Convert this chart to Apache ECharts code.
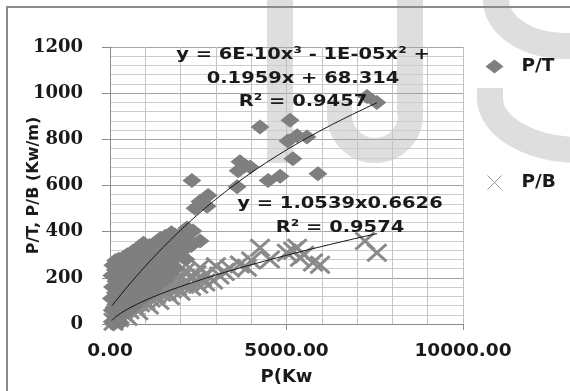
<!DOCTYPE html>
<html>
<head>
<meta charset="utf-8">
<script src="https://cdn.jsdelivr.net/npm/echarts@6/dist/echarts.min.js"></script>
<style>
  html, body { margin: 0; padding: 0; background: #fff; }
  #chart { width: 570px; height: 391px; }
</style>
</head>
<body>
<div id="chart"></div>
<script>
// P/T readings: [P (Kw), P/T (Kw/m)]
const ptPoints = [
  [100, 0], [300, 5], [60, 10], [60, 60], [40, 110], [70, 160], [50, 210], [80, 255],
  [150, 35], [160, 85], [150, 135], [170, 185], [150, 235], [160, 275],
  [250, 30], [270, 80], [240, 130], [260, 180], [280, 230], [250, 280],
  [400, 45], [390, 95], [410, 145], [400, 195], [380, 245], [400, 290],
  [500, 60], [520, 110], [480, 160], [510, 210], [530, 260], [490, 300],
  [650, 75], [660, 125], [640, 175], [650, 225], [670, 275], [650, 315],
  [800, 100], [780, 150], [820, 200], [790, 250], [810, 300], [830, 335],
  [950, 115], [960, 165], [940, 215], [950, 265], [970, 315], [950, 350],
  [1100, 140], [1120, 190], [1080, 240], [1110, 290], [1130, 340],
  [1250, 150], [1260, 200], [1240, 250], [1250, 300], [1270, 350],
  [1400, 180], [1380, 230], [1420, 280], [1390, 330], [1430, 370],
  [1550, 190], [1560, 240], [1540, 290], [1550, 340], [1570, 380],
  [1700, 220], [1720, 270], [1680, 320], [1710, 370], [1740, 395],
  [1850, 240], [1860, 290], [1840, 340], [1850, 385],
  [2000, 300], [2030, 345], [1980, 385], [2180, 416],
  [2150, 280], [2160, 330], [2140, 375],
  [2300, 340], [2550, 360], [2350, 403],
  [2320, 622], [2410, 501], [2550, 531], [2750, 510], [2780, 557],
  [3600, 595], [3630, 664], [3680, 703], [3820, 686], [3970, 680],
  [4250, 853], [4480, 622], [4820, 640], [5040, 793], [5100, 883],
  [5180, 716], [5300, 815], [5580, 810], [5890, 651],
  [7280, 986], [7560, 960]
];

// P/B readings: [P (Kw), P/B (Kw/m)]
const pbPoints = [
  [100, 10], [150, 40], [250, 25], [300, 60], [400, 45], [450, 80],
  [500, 30], [550, 60], [600, 95], [700, 75], [750, 110], [800, 55],
  [850, 90], [900, 125], [1000, 100], [1050, 135], [1100, 80],
  [1150, 110], [1200, 150], [1250, 180], [1300, 125], [1350, 160],
  [1400, 100], [1450, 135], [1500, 170], [1550, 200], [1600, 140],
  [1650, 175], [1700, 120], [1750, 150], [1800, 185], [1850, 215],
  [1900, 160], [2000, 195], [2000, 140], [2100, 170], [2150, 230],
  [2200, 180], [2270, 201], [2300, 160], [2400, 185], [2450, 215],
  [2500, 170], [2550, 244], [2600, 200], [2700, 180], [2750, 215],
  [2920, 188], [3000, 250], [3100, 210], [3250, 225], [3400, 240],
  [3680, 258], [3880, 244], [4000, 275], [4250, 330], [4530, 279],
  [5010, 309], [5190, 317], [5300, 330], [5380, 287], [5500, 300],
  [5750, 266], [5950, 257], [7224, 360], [7560, 309]
];

// Trendline coefficients (polynomial for P/T, power law for P/B)
const ptPoly = [68.314, 0.1959, -1.45e-5, 5.5e-10];
const pbPower = { k: 1.0539, p: 0.6626 };
const trendRange = [55, 7560];

// Equation labels
const ptEquation = ['y = 6E-10x³ - 1E-05x² +', '0.1959x + 68.314', 'R² = 0.9457'];
const pbEquation = ['y = 1.0539x0.6626', 'R² = 0.9574'];

// Axis settings
const xTicks = [0, 5000, 10000];
const yTicks = [0, 200, 400, 600, 800, 1000, 1200];

function sampleTrend(fn) {
  const out = [];
  const steps = 120;
  for (let i = 0; i <= steps; i++) {
    const x = trendRange[0] + (trendRange[1] - trendRange[0]) * i / steps;
    out.push([x, fn(x)]);
  }
  return out;
}
const ptTrend = sampleTrend(x => ptPoly[0] + ptPoly[1] * x + ptPoly[2] * x * x + ptPoly[3] * x * x * x);
const pbTrend = sampleTrend(x => pbPower.k * Math.pow(x, pbPower.p));

const crossPath = 'path://M0,0L10,10M0,10L10,0';
const sans = 'DejaVu Sans';
const gray = '#7f7f7f';
const ink = '#1a1a1a';
const watermark = '#dedede';

const chart = echarts.init(document.getElementById('chart'), null, { renderer: 'canvas' });

function eqText(lines, cx, y0, lh) {
  return lines.map((t, i) => ({
    type: 'text', x: cx, y: y0 + i * lh, z: 50, scaleX: 1.18,
    style: { text: t, fill: ink, font: 'bold 16.5px "' + sans + '"',
             align: 'center', verticalAlign: 'middle' }
  }));
}

// stroke pieces of the large background lettering
function wmCurve(p) {
  return { type: 'bezierCurve', z: -10,
    shape: { x1: p[0], y1: p[1], cpx1: p[2], cpy1: p[3], cpx2: p[4], cpy2: p[5], x2: p[6], y2: p[7] },
    style: { stroke: watermark, lineWidth: 26, fill: null } };
}
function wmLine(x1, y1, x2, y2) {
  return { type: 'line', z: -10, shape: { x1, y1, x2, y2 }, style: { stroke: watermark, lineWidth: 26 } };
}

chart.setOption({
  animation: false,
  backgroundColor: '#fff',
  grid: { left: 110, right: 107, top: 47, bottom: 64, containLabel: false },
  xAxis: {
    type: 'value', min: xTicks[0], max: xTicks[xTicks.length - 1], interval: 5000,
    name: 'P(Kw', nameLocation: 'middle', nameGap: 44, nameMoveOverlap: false,
    nameTextStyle: { fontFamily: sans, fontWeight: 'bold', fontSize: 18, color: ink },
    axisLine: { show: true, onZero: false, lineStyle: { color: '#8c8c8c', width: 1 } },
    axisTick: { show: true, inside: false, length: 6, lineStyle: { color: '#8c8c8c' } },
    axisLabel: { margin: 18, fontFamily: sans, fontWeight: 'bold', fontSize: 18.5, color: ink,
                 formatter: v => v.toFixed(2) },
    splitLine: { show: true, lineStyle: { color: '#c0c0c0', width: 1 } },
    minorTick: { show: false, splitNumber: 5 },
    minorSplitLine: { show: true, lineStyle: { color: '#c4c4c4', width: 1 } }
  },
  yAxis: {
    type: 'value', min: yTicks[0], max: yTicks[yTicks.length - 1], interval: 200,
    name: 'P/T, P/B (Kw/m)', nameLocation: 'middle', nameGap: 68, nameRotate: 90, nameMoveOverlap: false,
    nameTextStyle: { fontFamily: sans, fontWeight: 'bold', fontSize: 16, color: ink },
    axisLine: { show: true, lineStyle: { color: '#8c8c8c', width: 1 } },
    axisTick: { show: true, inside: false, length: 8, lineStyle: { color: '#8c8c8c' } },
    axisLabel: { margin: 27, fontFamily: 'DejaVu Serif', fontWeight: 'bold', fontSize: 18, color: ink,
                 formatter: v => String(v) },
    splitLine: { show: true, lineStyle: { color: '#a4a4a4', width: 1 } },
    minorTick: { show: false, splitNumber: 5 },
    minorSplitLine: { show: true, lineStyle: { color: '#cdcdcd', width: 1 } }
  },
  legend: {
    orient: 'vertical', left: 480, top: 52, itemGap: 97,
    itemWidth: 18, itemHeight: 14,
    textStyle: { fontFamily: sans, fontWeight: 'bold', fontSize: 18.5, color: ink, padding: [0, 0, 0, 13] },
    data: [
      { name: 'P/T', icon: 'diamond', itemStyle: { color: gray } },
      { name: 'P/B', icon: crossPath, itemStyle: { color: 'none', borderColor: '#9a9a9a', borderWidth: 1 } }
    ]
  },
  series: [
    {
      name: 'P/B', type: 'scatter', data: pbPoints, z: 3,
      symbol: crossPath, symbolSize: [19, 17],
      itemStyle: { color: 'none', borderColor: '#8a8a8a', borderWidth: 3, opacity: 1 }
    },
    {
      name: 'P/T', type: 'scatter', data: ptPoints, z: 4,
      symbol: 'diamond', symbolSize: [19, 15],
      itemStyle: { color: gray, opacity: 1 }
    },
    {
      name: 'P/T trend', type: 'line', data: ptTrend, z: 5, showSymbol: false, silent: true,
      lineStyle: { color: '#111', width: 1 }
    },
    {
      name: 'P/B trend', type: 'line', data: pbTrend, z: 5, showSymbol: false, silent: true,
      lineStyle: { color: '#111', width: 1 }
    }
  ],
  graphic: [
    // background lettering: I
    { type: 'rect', z: -10, shape: { x: 267, y: -5, width: 26, height: 168 }, style: { fill: watermark } },
    // J
    { type: 'rect', z: -10, shape: { x: 397, y: -5, width: 26, height: 120 }, style: { fill: watermark } },
    { type: 'arc', z: -10, shape: { cx: 375, cy: 115, r: 35.5, startAngle: 0, endAngle: Math.PI, clockwise: true },
      style: { stroke: watermark, lineWidth: 25, fill: null } },
    { type: 'rect', z: -10, shape: { x: 327, y: 100, width: 25, height: 15 }, style: { fill: watermark } },
    // S
    wmCurve([565, 46, 526.9, 46, 496, 25.4, 496, 0]),
    wmCurve([496, 0, 496, -25.4, 526.9, -46, 565, -46]),
    wmLine(560, 46, 582, 46),
    wmCurve([580, 46, 629.7, 46, 670, 69.3, 670, 98]),
    wmCurve([670, 98, 670, 126.7, 629.7, 150, 580, 150]),
    wmCurve([580, 150, 530.3, 150, 490, 126.7, 490, 98]),
    wmLine(490, 100, 490, 88),
    // outer frame
    { type: 'rect', z: 60, shape: { x: 7, y: 7, width: 600, height: 400 },
      style: { fill: null, stroke: '#8c8c8c', lineWidth: 2 } }
  ].concat(eqText(ptEquation, 303, 55, 23.5), eqText(pbEquation, 340, 204, 23.5))
});
</script>
</body>
</html>
